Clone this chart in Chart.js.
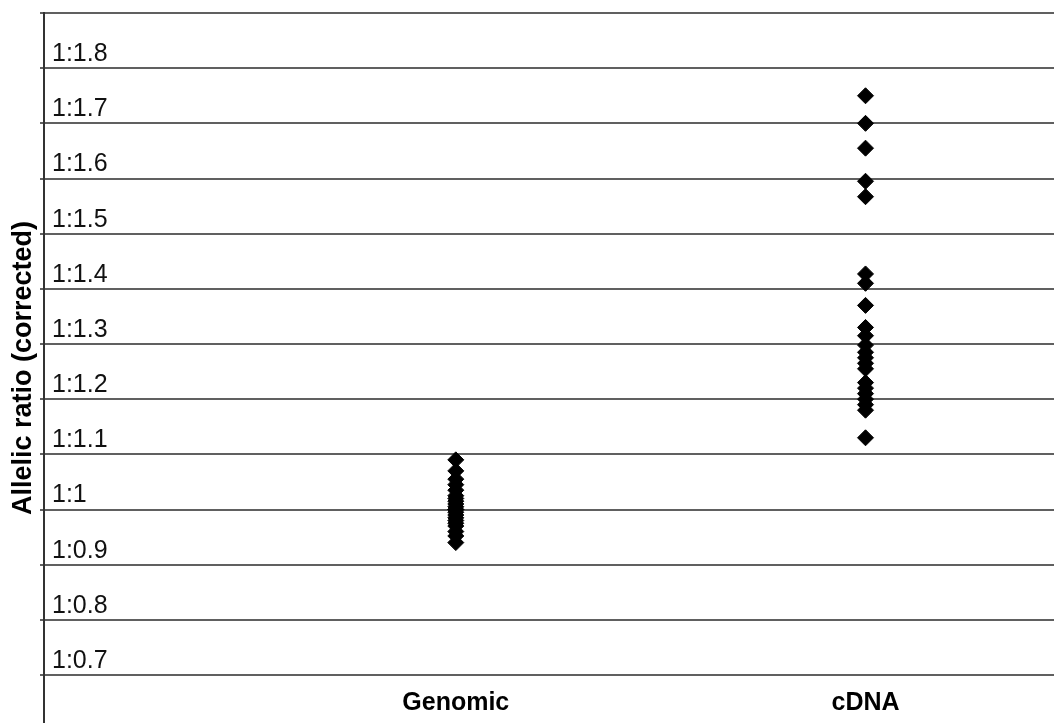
<!DOCTYPE html>
<html><head><meta charset="utf-8">
<script src="https://cdn.jsdelivr.net/npm/chart.js@4"></script>
<style>html,body{margin:0;padding:0;background:#fff}#wrap{width:1054px;height:723px;position:relative}</style>
</head><body><div id="wrap"><canvas id="c"></canvas></div>
<script>
const categories = ['Genomic', 'cDNA'];
const genomicValues = [1.09, 1.07, 1.055, 1.045, 1.035, 1.025, 1.02, 1.015, 1.01, 1.005, 1.0, 1.0, 0.995, 0.99, 0.985, 0.98, 0.975, 0.97, 0.96, 0.952, 0.94];
const cdnaValues = [1.75, 1.70, 1.655, 1.595, 1.567, 1.427, 1.41, 1.37, 1.33, 1.315, 1.298, 1.285, 1.275, 1.265, 1.255, 1.23, 1.22, 1.21, 1.2, 1.19, 1.18, 1.13];
const tickValues = [0.7, 0.8, 0.9, 1.0, 1.1, 1.2, 1.3, 1.4, 1.5, 1.6, 1.7, 1.8, 1.9];
const tickLabels = ['1:0.7', '1:0.8', '1:0.9', '1:1', '1:1.1', '1:1.2', '1:1.3', '1:1.4', '1:1.5', '1:1.6', '1:1.7', '1:1.8', ''];
const yTitle = 'Allelic ratio (corrected)';

const FONT = "'Liberation Sans', Arial, sans-serif";
const seriesValues = [genomicValues, cdnaValues];

new Chart(document.getElementById('c'), {
  type: 'scatter',
  data: {
    datasets: seriesValues.map((vals, i) => ({
      label: categories[i],
      data: vals.map(v => ({ x: i + 1, y: v })),
      pointStyle: 'rectRot',
      pointRadius: 8,
      pointHoverRadius: 8,
      backgroundColor: '#000',
      borderColor: '#000',
      borderWidth: 1
    }))
  },
  options: {
    responsive: true,
    maintainAspectRatio: false,
    animation: false,
    layout: { autoPadding: false, padding: { top: 13, left: 0, right: 0, bottom: 0 } },
    plugins: { legend: { display: false }, tooltip: { enabled: false } },
    scales: {
      x: {
        type: 'linear', min: -0.005, max: 2.46, position: 'bottom',
        afterBuildTicks: s => { s.ticks = categories.map((c, i) => ({ value: i + 1 })); },
        afterFit: s => { s.height = 0; s.paddingLeft = 0; s.paddingRight = 0; },
        grid: { display: false },
        border: { display: false },
        ticks: {
          mirror: true, padding: 5, color: '#000', maxRotation: 0, autoSkip: false,
          font: { family: FONT, size: 25, weight: 'bold' },
          callback: v => categories[Math.round(v) - 1]
        }
      },
      y: {
        type: 'linear', min: 0.613, max: 1.9,
        afterBuildTicks: s => { s.ticks = tickValues.map(v => ({ value: v })); },
        afterFit: s => { s.width = 44; s.paddingTop = 0; s.paddingBottom = 0; },
        border: { display: true, color: '#333', width: 2 },
        grid: { color: '#606060', lineWidth: 2, tickLength: 4, drawTicks: true },
        ticks: {
          mirror: true, padding: 8, labelOffset: -14, color: '#111',
          font: { family: FONT, size: 25 },
          callback: v => {
            const i = tickValues.findIndex(t => Math.abs(t - v) < 1e-6);
            return i >= 0 ? tickLabels[i] : '';
          }
        },
        title: {
          display: true, text: yTitle, color: '#000',
          font: { family: FONT, size: 27, weight: 'bold', lineHeight: 1 },
          padding: { top: 10, bottom: 0 }
        }
      }
    }
  }
});
</script>
</body></html>
